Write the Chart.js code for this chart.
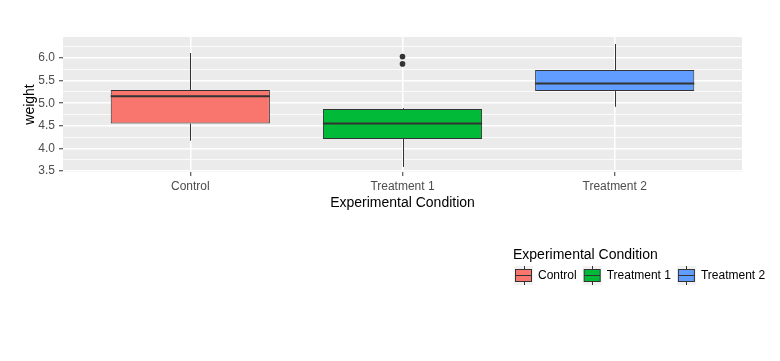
<!DOCTYPE html>
<html>
<head>
<meta charset="utf-8">
<script src="https://cdn.jsdelivr.net/npm/chart.js"></script>
<style>
  body { margin: 0; background: #fff; }
</style>
</head>
<body>
<canvas id="myChart" width="780" height="361"></canvas>
<script>
// PlantGrowth summary
const categories = ['Control', 'Treatment 1', 'Treatment 2'];
const q1 = [4.55, 4.2075, 5.2675];
const median = [5.155, 4.55, 5.435];
const q3 = [5.2925, 4.87, 5.735];
const whiskerLow = [4.17, 3.59, 4.92];
const whiskerHigh = [6.11, 4.89, 6.31];
const outliers = [[], [5.87, 6.03], []];
const yTicks = [3.5, 4.0, 4.5, 5.0, 5.5, 6.0];
const fills = ['#F8766D', '#00BA38', '#619CFF'];

const FONT = 'Liberation Sans, Arial, sans-serif';
const INK = '#333333';

const boxData = categories.map((c, i) => ({ x: i + 1, y: [q1[i], q3[i]] }));
const outlierData = [];
outliers.forEach((list, i) => list.forEach(v => outlierData.push({ x: i + 1, y: v })));

const isMajor = v => yTicks.some(t => Math.abs(t - v) < 1e-6);

// grey panel behind the grid
const panelBg = {
  id: 'panelBg',
  beforeDraw(chart) {
    const { ctx, chartArea: a } = chart;
    ctx.save();
    ctx.fillStyle = '#EBEBEB';
    ctx.fillRect(a.left, a.top, a.right - a.left, a.bottom - a.top);
    ctx.restore();
  }
};

// medians and whiskers
const boxExtras = {
  id: 'boxExtras',
  afterDatasetsDraw(chart) {
    const { ctx } = chart;
    const xs = chart.scales.x, ys = chart.scales.y;
    const bars = chart.getDatasetMeta(0).data;
    ctx.save();
    ctx.strokeStyle = INK;
    categories.forEach((c, i) => {
      const x = Math.round(xs.getPixelForValue(i + 1)) + 0.5;
      ctx.lineWidth = 1;
      ctx.beginPath();
      ctx.moveTo(x, ys.getPixelForValue(q3[i]));
      ctx.lineTo(x, ys.getPixelForValue(whiskerHigh[i]));
      ctx.moveTo(x, ys.getPixelForValue(q1[i]));
      ctx.lineTo(x, ys.getPixelForValue(whiskerLow[i]));
      ctx.stroke();
      const half = bars[i].width / 2;
      const y = ys.getPixelForValue(median[i]);
      ctx.lineWidth = 2;
      ctx.beginPath();
      ctx.moveTo(bars[i].x - half, y);
      ctx.lineTo(bars[i].x + half, y);
      ctx.stroke();
    });
    ctx.restore();
  }
};

// ggplot-style legend under the panel, at the right
const boxLegend = {
  id: 'boxLegend',
  afterDraw(chart) {
    const { ctx } = chart;
    const x0 = 513;
    ctx.save();
    ctx.fillStyle = '#000';
    ctx.font = '14px ' + FONT;
    ctx.textBaseline = 'middle';
    ctx.fillText('Experimental Condition', x0, 255);
    ctx.font = '12px ' + FONT;
    let x = x0 + 1;
    const top = 266, kw = 19, kh = 19;
    categories.forEach((c, i) => {
      ctx.fillStyle = '#F2F2F2';
      ctx.fillRect(x, top, kw, kh);
      const cx = Math.round(x + kw / 2) + 0.5;
      ctx.strokeStyle = INK;
      ctx.lineWidth = 1;
      ctx.beginPath();
      ctx.moveTo(cx, top); ctx.lineTo(cx, top + kh);
      ctx.stroke();
      ctx.fillStyle = fills[i];
      ctx.fillRect(x + 1.5, top + 3.5, kw - 3, kh - 7);
      ctx.strokeRect(x + 1.5, top + 3.5, kw - 3, kh - 7);
      ctx.beginPath();
      ctx.moveTo(x + 1.5, top + kh / 2); ctx.lineTo(x + kw - 1.5, top + kh / 2);
      ctx.stroke();
      ctx.fillStyle = '#000';
      ctx.fillText(c, x + kw + 5, top + kh / 2 + 0.5);
      x += kw + 5 + ctx.measureText(c).width + 6;
    });
    ctx.restore();
  }
};

const config = {
  data: {
    datasets: [{
      type: 'bar',
      data: boxData,
      backgroundColor: fills,
      borderColor: INK,
      borderWidth: 1,
      borderSkipped: false,
      barPercentage: 0.75,
      categoryPercentage: 1
    }, {
      type: 'scatter',
      data: outlierData,
      pointRadius: 2.8,
      pointBackgroundColor: INK,
      pointBorderWidth: 0
    }]
  },
  options: {
    responsive: false,
    animation: false,
    layout: { padding: { left: 0, top: 37, right: 38, bottom: 149 } },
    plugins: { legend: { display: false }, tooltip: { enabled: false } },
    scales: {
      x: {
        type: 'linear',
        min: 0.4,
        max: 3.6,
        offset: false,
        afterFit(s) { s.height = 40; },
        afterBuildTicks(s) { s.ticks = categories.map((c, i) => ({ value: i + 1 })); },
        border: { display: false },
        grid: { offset: false, color: '#FFFFFF', lineWidth: 1.5, tickColor: INK, tickLength: 4, tickWidth: 1 },
        ticks: {
          autoSkip: false, maxRotation: 0, padding: 3,
          color: '#4D4D4D', font: { family: FONT, size: 12 },
          callback: v => categories[v - 1]
        },
        title: {
          display: true, text: 'Experimental Condition', color: '#000',
          font: { family: FONT, size: 14 }, padding: { top: 0, bottom: 0 }
        }
      },
      y: {
        min: 3.478,
        max: 6.465,
        afterFit(s) { s.width = 63; },
        border: { display: false },
        grid: {
          color: '#FFFFFF',
          lineWidth: c => isMajor(c.tick.value) ? 1.5 : 0.8,
          tickColor: c => isMajor(c.tick.value) ? INK : 'rgba(0,0,0,0)',
          tickLength: 4, tickWidth: 1
        },
        ticks: {
          stepSize: 0.25, includeBounds: false, autoSkip: false, padding: 4,
          color: '#4D4D4D', font: { family: FONT, size: 12 },
          callback: v => isMajor(v) ? v.toFixed(1) : ''
        },
        title: {
          display: true, text: 'weight', color: '#000',
          font: { family: FONT, size: 14 }, padding: { top: 22, bottom: 0 }
        }
      }
    }
  },
  plugins: [panelBg, boxExtras, boxLegend]
};

const myChart = new Chart(document.getElementById('myChart'), config);
</script>
</body>
</html>
